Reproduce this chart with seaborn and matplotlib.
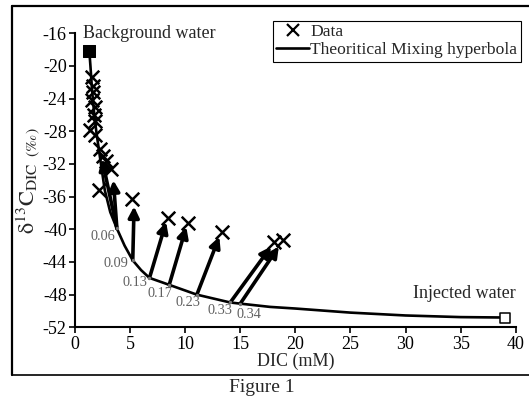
import matplotlib
matplotlib.use("Agg")
import matplotlib.pyplot as plt
from matplotlib.lines import Line2D
import seaborn as sns
import pandas as pd

# ---------------- data ----------------
bg_x, bg_y = [1.3], [-18.2]          # background water end member
inj_x, inj_y = [39.0], [-50.8]       # injected water end member

curve_x = [1.3, 1.4, 1.55, 1.75, 1.95, 2.3, 2.7, 3.2, 3.8, 4.5, 5.24, 6.0, 6.76,
           8.55, 11.06, 14.09, 15.0, 17.7, 20.0, 25.0, 30.0, 35.0, 39.0]
curve_y = [-18.2, -20.0, -23.0, -26.0, -28.2, -31.5, -35.2, -37.9, -39.9, -42.0,
           -43.8, -45.0, -45.95, -46.8, -48.0, -48.96, -49.1, -49.5, -49.7,
           -50.2, -50.55, -50.75, -50.8]

data_x = [1.52, 1.60, 1.67, 1.55, 1.82, 1.68, 1.80, 1.40, 1.85, 2.27, 2.58,
          2.85, 3.25, 2.15, 5.20, 8.40, 10.30, 13.35, 18.10, 18.85]
data_y = [-21.4, -22.4, -23.2, -24.2, -25.0, -26.0, -26.8, -27.8, -28.5,
          -30.2, -31.0, -31.6, -32.6, -35.2, -36.3, -38.6, -39.2, -40.3,
          -41.6, -41.3]

frac_labels = ["0.06", "0.09", "0.13", "0.17", "0.23", "0.33", "0.34"]
mix_x = [3.8, 5.24, 6.76, 8.55, 11.06, 14.09, 15.0]
mix_y = [-39.9, -43.8, -45.95, -46.8, -48.0, -48.96, -49.1]

arrow_from = ["0.06", "0.06", "0.09", "0.13", "0.17", "0.23", "0.33", "0.34"]
arrow_tip_x = [2.45, 3.48, 5.36, 8.27, 10.1, 13.1, 17.8, 18.5]
arrow_tip_y = [-31.4, -34.0, -37.2, -39.1, -39.7, -40.9, -42.1, -42.1]

x_ticks = [0, 5, 10, 15, 20, 25, 30, 35, 40]
y_ticks = [-16, -20, -24, -28, -32, -36, -40, -44, -48, -52]

legend_labels = ["Data", "Theoritical Mixing hyperbola"]

# ---------------- layout / style ----------------
label_offsets = [(-1.5, -5.5), (-3.4, -2.5), (-1.4, -3.3), (2.0, -6.5),
                 (2.4, -6.0), (1.2, -5.5), (-2.4, -8.0)]
label_ha = ["right", "right", "right", "right", "right", "right", "left"]

sns.set_style("ticks")
plt.rcParams["font.family"] = ["Liberation Serif", "DejaVu Serif"]
plt.rcParams["mathtext.fontset"] = "stix"
plt.rcParams["axes.unicode_minus"] = False

fig = plt.figure(figsize=(5.29, 4.03), dpi=100)
ax = fig.add_axes([0.1418, 0.1878, 0.9749 - 0.1418, 0.9174 - 0.1878])

curve_df = pd.DataFrame({"x": curve_x, "y": curve_y})
sns.lineplot(data=curve_df, x="x", y="y", sort=False, color="black", lw=1.9,
             ax=ax, legend=False)

# arrows from mixing points to the data
lut = dict(zip(frac_labels, zip(mix_x, mix_y)))
for f, tx, ty in zip(arrow_from, arrow_tip_x, arrow_tip_y):
    sx, sy = lut[f]
    ax.annotate("", xy=(tx, ty), xytext=(sx, sy),
                arrowprops=dict(arrowstyle="-|>", color="black", lw=2.6,
                                mutation_scale=16, shrinkA=0, shrinkB=0))

data_df = pd.DataFrame({"x": data_x, "y": data_y})
sns.scatterplot(data=data_df, x="x", y="y", marker="x", color="black", s=95,
                linewidth=1.8, ax=ax, legend=False, zorder=5)

bg_df = pd.DataFrame({"x": bg_x, "y": bg_y})
sns.scatterplot(data=bg_df, x="x", y="y", marker="s", color="black", s=85,
                edgecolor="black", ax=ax, legend=False, zorder=6)
inj_df = pd.DataFrame({"x": inj_x, "y": inj_y})
sns.scatterplot(data=inj_df, x="x", y="y", marker="s", facecolor="white",
                edgecolor="black", linewidth=1.1, s=45, ax=ax, legend=False,
                zorder=6)

mix_df = pd.DataFrame({"x": mix_x, "y": mix_y})
sns.scatterplot(data=mix_df, x="x", y="y", marker="o", color="#777777", s=6,
                linewidth=0, ax=ax, legend=False, zorder=4)
for lab, mx, my, off, ha in zip(frac_labels, mix_x, mix_y, label_offsets, label_ha):
    ax.annotate(lab, xy=(mx, my), xytext=off, textcoords="offset points",
                ha=ha, va="center", fontsize=10.3, color="#606060")

ax.text(0.73, -16, "Background water", fontsize=13, va="center", ha="left")
ax.text(40, -47.8, "Injected water", fontsize=13, va="center", ha="right")

ax.set_xlim(0, 40)
ax.set_ylim(-52, -16)
ax.set_xticks(x_ticks)
ax.set_yticks(y_ticks)
ax.tick_params(direction="out", length=4, width=1.2, labelsize=13, pad=2,
               colors="black")
for side in ["top", "right"]:
    ax.spines[side].set_visible(False)
for side in ["left", "bottom"]:
    ax.spines[side].set_linewidth(1.5)
    ax.spines[side].set_color("black")

ax.set_xlabel("DIC (mM)", fontsize=13, labelpad=0)
ax.set_ylabel(r"$\mathrm{δ}^{13}\mathrm{C}_{\mathrm{DIC}\ \ (‰)}$", fontsize=16,
              labelpad=0)

handles = [Line2D([], [], marker="x", color="black", ls="none", markersize=9,
                  markeredgewidth=1.6),
           Line2D([], [], color="black", lw=1.9)]
leg = ax.legend(handles, legend_labels,
                loc="upper left", bbox_to_anchor=(272.7 / 529, 1 - 20.7 / 403),
                bbox_transform=fig.transFigure, fontsize=12.6, frameon=True,
                fancybox=False, edgecolor="black", framealpha=1,
                handlelength=1.9, handletextpad=0.05, borderpad=0.2,
                labelspacing=0.1, borderaxespad=0)
leg.get_frame().set_linewidth(0.8)

# outer frame of the figure panel and caption
fig.add_artist(Line2D([12 / 529, 1.0], [1 - 6 / 403, 1 - 6 / 403], color="black",
                      lw=1.6, transform=fig.transFigure))
fig.add_artist(Line2D([12 / 529, 12 / 529], [1 - 6 / 403, 1 - 375 / 403],
                      color="black", lw=1.6, transform=fig.transFigure))
fig.add_artist(Line2D([12 / 529, 1.0], [1 - 375 / 403, 1 - 375 / 403],
                      color="black", lw=1.2, transform=fig.transFigure))
fig.text(262 / 529, 1 - 387 / 403, "Figure 1", fontsize=14, ha="center",
         va="center")

fig.savefig("out.png", dpi=100)
